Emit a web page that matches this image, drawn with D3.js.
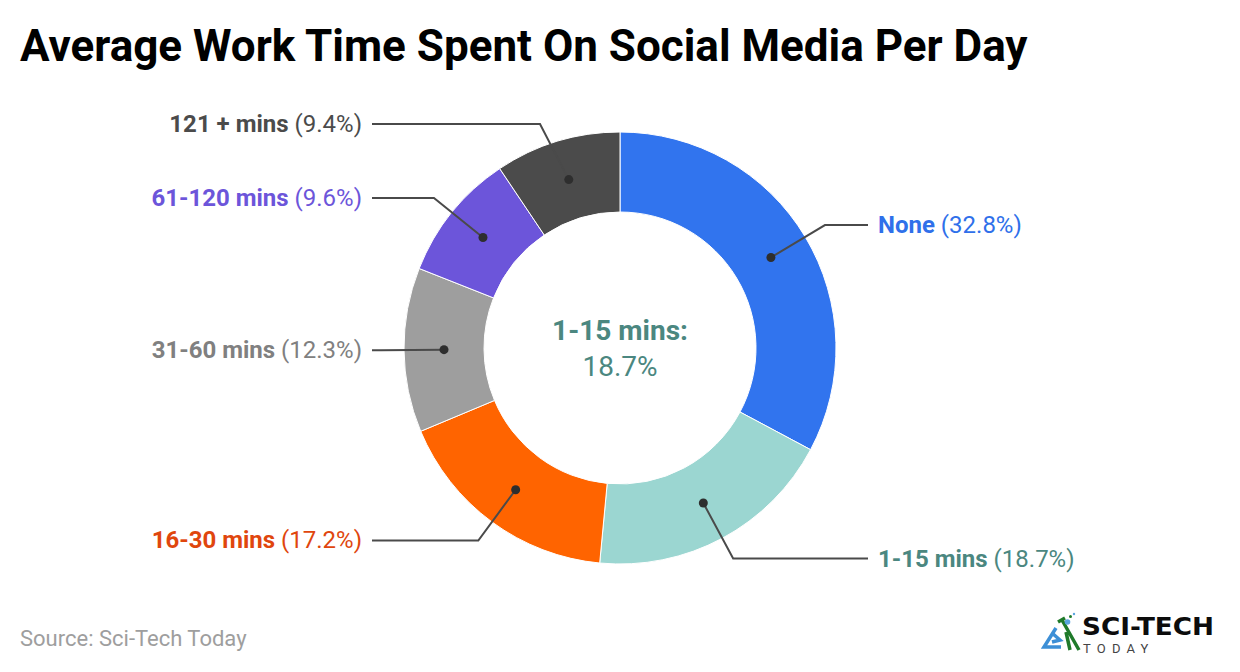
<!doctype html>
<html>
<head>
<meta charset="utf-8">
<title>Average Work Time Spent On Social Media Per Day</title>
<script src="https://cdn.jsdelivr.net/npm/d3@7"></script>
<style>
  html, body { margin: 0; background: #fff; }
  svg { display: block; font-family: Roboto, sans-serif; }
</style>
</head>
<body>
<svg id="chart" width="1240" height="672"></svg>
<script>
var categories = ["None", "1-15 mins", "16-30 mins", "31-60 mins", "61-120 mins", "121 + mins"];
var shares = [32.8, 18.7, 17.2, 12.3, 9.6, 9.4];
var sliceColors = ["#3174ee", "#9bd6d1", "#ff6400", "#9e9e9e", "#6c55da", "#4b4b4b"];
var labelColors = ["#2f70ea", "#4b8780", "#e0460d", "#808080", "#6c55da", "#4b4b4b"];

var svg = d3.select("#chart");
var cx = 620, cy = 348, outerR = 216, innerR = 136, elbowR = 239;

svg.append("text").attr("x", 20).attr("y", 61)
  .attr("font-size", 44).attr("font-weight", 700).attr("fill", "#000")
  .text("Average Work Time Spent On Social Media Per Day");

var pie = d3.pie().sort(null).value(function(d) { return d; });
var arc = d3.arc().innerRadius(innerR).outerRadius(outerR);
var arcs = pie(shares);

var g = svg.append("g").attr("transform", "translate(" + cx + "," + cy + ")");

g.selectAll("path.slice").data(arcs).enter().append("path")
  .attr("class", "slice")
  .attr("d", arc)
  .attr("fill", function(d, i) { return sliceColors[i]; })
  .attr("stroke", "#fff").attr("stroke-width", 1);

// callouts: dot on the ring, elbow outside it, then a flat leg to the label
var elbowArc = d3.arc().innerRadius(elbowR).outerRadius(elbowR);
var legX = 248; // distance of the leg end from the centre
var labelGap = 10;

arcs.forEach(function(d, i) {
  var dot = arc.centroid(d);
  var elbow = elbowArc.centroid(d);
  if (i == 5) { elbow = [-80, -224]; } // the chart pulls this one aside
  var right = elbow[0] > 0;
  var end = [right ? legX : -legX, elbow[1]];

  g.append("polyline")
    .attr("points", [dot, elbow, end].join(" "))
    .attr("fill", "none").attr("stroke", "#4a4a4a").attr("stroke-width", 2);
  g.append("circle").attr("cx", dot[0]).attr("cy", dot[1]).attr("r", 4.5).attr("fill", "#2e2e2e");

  var label = g.append("text")
    .attr("x", end[0] + (right ? labelGap : -labelGap - 0))
    .attr("y", end[1] + 8)
    .attr("text-anchor", right ? "start" : "end")
    .attr("font-size", 24)
    .attr("fill", labelColors[i]);
  label.append("tspan").attr("font-weight", 700).text(categories[i]);
  label.append("tspan").text(" (" + shares[i] + "%)");
});

// centre readout
g.append("text").attr("y", -8).attr("text-anchor", "middle")
  .attr("font-size", 28).attr("font-weight", 700).attr("fill", "#4b8780")
  .text(categories[1] + ":");
g.append("text").attr("y", 28).attr("text-anchor", "middle")
  .attr("font-size", 28).attr("fill", "#4b8780")
  .text(shares[1] + "%");

svg.append("text").attr("x", 20).attr("y", 646)
  .attr("font-size", 22).attr("fill", "#9e9e9e")
  .text("Source: Sci-Tech Today");

// logo
var logo = svg.append("g");
logo.append("text").attr("x", 1082).attr("y", 635)
  .attr("font-size", 24).attr("font-weight", 700).attr("fill", "#0c0c0c")
  .attr("font-family", "'DejaVu Sans', sans-serif").attr("textLength", 132).attr("lengthAdjust", "spacingAndGlyphs")
  .text("SCI-TECH");
logo.append("text").attr("x", 1083).attr("y", 653)
  .attr("font-size", 13).attr("fill", "#444").attr("letter-spacing", 6.2)
  .text("TODAY");
logo.append("path").attr("d", "M1056 628 L1044 647 L1061 647 M1052 633 L1060 640 L1052 642")
  .attr("fill", "none").attr("stroke", "#3d8fd6").attr("stroke-width", 3.5);
logo.append("path").attr("d", "M1058 622 L1065 618 M1062 620 L1079 650 M1066 632 L1070 650")
  .attr("fill", "none").attr("stroke", "#1f7a2a").attr("stroke-width", 3.5);
logo.append("circle").attr("cx", 1067.5).attr("cy", 622).attr("r", 2.8).attr("fill", "#5aa5e0");
logo.append("circle").attr("cx", 1070.5).attr("cy", 616.5).attr("r", 1.5).attr("fill", "#1f7a2a");
logo.append("circle").attr("cx", 1074).attr("cy", 614).attr("r", 1.2).attr("fill", "#5aa5e0");
</script>
</body>
</html>
